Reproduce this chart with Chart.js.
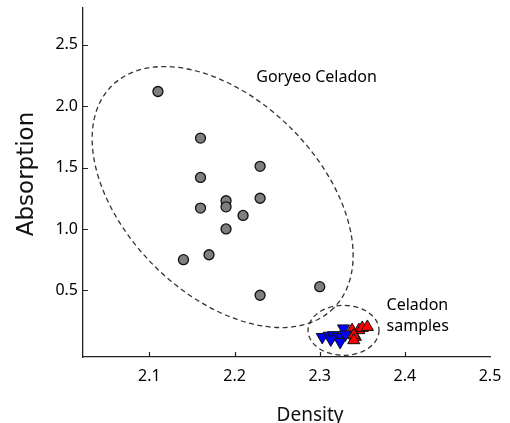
<!DOCTYPE html>
<html>
<head>
<meta charset="utf-8">
<script src="https://cdn.jsdelivr.net/npm/chart.js@4.4.0/dist/chart.umd.min.js"></script>
<style>
  body { margin: 0; background: #fff; }
  #grafico { display: block; }
</style>
</head>
<body>
<canvas id="grafico" width="510" height="423"></canvas>
<script>
// Goryeo celadon (gray circles)
const goryeoDensity    = [2.11, 2.16, 2.16, 2.16, 2.19, 2.19, 2.19, 2.21, 2.23, 2.23, 2.14, 2.17, 2.23, 2.30];
const goryeoAbsorption = [2.12, 1.74, 1.42, 1.17, 1.23, 1.18, 1.00, 1.11, 1.51, 1.25, 0.75, 0.79, 0.46, 0.53];

// celadon samples, blue (down triangles) and red (up triangles)
const blueDensity    = [2.303, 2.311, 2.316, 2.322, 2.328, 2.330, 2.324, 2.313];
const blueAbsorption = [0.12, 0.13, 0.135, 0.12, 0.19, 0.14, 0.08, 0.10];
const redDensity     = [2.338, 2.346, 2.350, 2.356, 2.342, 2.340, 2.340];
const redAbsorption  = [0.176, 0.176, 0.194, 0.202, 0.121, 0.135, 0.094];

const xTicks = [2.1, 2.2, 2.3, 2.4, 2.5];
const yTicks = [0.5, 1.0, 1.5, 2.0, 2.5];

function toPoints(xs, ys) {
    return xs.map((x, i) => ({ x: x, y: ys[i] }));
}

const ctx = document.getElementById('grafico').getContext('2d');

// dashed ellipses + text labels (anchored in data units)
const anotaciones = {
    id: 'anotaciones',
    beforeDatasetsDraw(chart) {
        const c = chart.ctx, xs = chart.scales.x, ys = chart.scales.y;
        const elipses = [
            { x: 2.186, y: 1.26, rx: 157, ry: 97, rot: Math.PI / 4 },
            { x: 2.328, y: 0.174, rx: 35.5, ry: 25, rot: 0 }
        ];
        c.save();
        c.strokeStyle = '#333';
        c.lineWidth = 1.3;
        c.setLineDash([5, 3.5]);
        elipses.forEach(e => {
            c.beginPath();
            c.ellipse(xs.getPixelForValue(e.x), ys.getPixelForValue(e.y), e.rx, e.ry, e.rot, 0, Math.PI * 2);
            c.stroke();
        });
        c.restore();
    },
    afterDraw(chart) {
        const c = chart.ctx, xs = chart.scales.x, ys = chart.scales.y, area = chart.chartArea;
        c.save();
        c.fillStyle = '#000';
        c.textAlign = 'left';
        c.textBaseline = 'alphabetic';
        c.font = '16px "Noto Sans"';
        c.fillText('Goryeo Celadon', xs.getPixelForValue(2.2255), ys.getPixelForValue(2.2));
        c.fillText('Celadon', xs.getPixelForValue(2.3785), ys.getPixelForValue(0.34));
        c.fillText('samples', xs.getPixelForValue(2.3785), ys.getPixelForValue(0.167));

        // inward tick marks
        c.strokeStyle = '#222';
        c.lineWidth = 1.2;
        c.beginPath();
        xTicks.forEach(v => {
            if (v >= xs.max) return;
            const px = Math.round(xs.getPixelForValue(v)) + 0.5;
            c.moveTo(px, area.bottom);
            c.lineTo(px, area.bottom - 5);
        });
        yTicks.forEach(v => {
            const py = Math.round(ys.getPixelForValue(v)) + 0.5;
            c.moveTo(area.left, py);
            c.lineTo(area.left + 5, py);
        });
        c.stroke();

        // axis titles
        c.fillStyle = '#111';
        c.textAlign = 'center';
        c.font = '19px "Noto Sans"';
        c.fillText('Density', 310, 421);
        c.translate(33, 174);
        c.rotate(-Math.PI / 2);
        c.font = '23px "DejaVu Sans"';
        c.fillText('Absorption', 0, 0);
        c.restore();
    }
};

new Chart(ctx, {
    type: 'scatter',
    data: {
        datasets: [
            {
                label: 'Goryeo Celadon',
                data: toPoints(goryeoDensity, goryeoAbsorption),
                pointStyle: 'circle',
                pointRadius: 5,
                backgroundColor: '#7f7f7f',
                borderColor: '#111',
                borderWidth: 1.3,
                order: 3
            },
            {
                label: 'Red samples',
                data: toPoints(redDensity, redAbsorption),
                pointStyle: 'triangle',
                pointRadius: 7,
                backgroundColor: '#ff0000',
                borderColor: '#111',
                borderWidth: 1,
                order: 2
            },
            {
                label: 'Blue samples',
                data: toPoints(blueDensity, blueAbsorption),
                pointStyle: 'triangle',
                rotation: 180,
                pointRadius: 7,
                backgroundColor: '#0000ff',
                borderColor: '#111',
                borderWidth: 1,
                order: 1
            }
        ]
    },
    options: {
        responsive: false,
        animation: false,
        devicePixelRatio: 1,
        layout: { padding: { left: 0, right: 20, top: 7, bottom: 0 } },
        plugins: {
            legend: { display: false },
            tooltip: { enabled: false },
            title: { display: false }
        },
        scales: {
            x: {
                type: 'linear',
                min: 2.022,
                max: 2.5,
                grid: { display: false, drawTicks: false, tickLength: 0 },
                border: { display: true, color: '#222', width: 1.3 },
                ticks: {
                    color: '#000',
                    font: { family: 'Noto Sans', size: 16 },
                    padding: 10,
                    maxRotation: 0,
                    callback: v => v.toFixed(1)
                },
                afterBuildTicks: scale => { scale.ticks = xTicks.map(v => ({ value: v })); },
                afterFit: scale => {
                    scale.height = 66;
                    scale.paddingLeft = 0;
                    scale.paddingRight = 0;
                }
            },
            y: {
                type: 'linear',
                min: -0.043,
                max: 2.8,
                grid: { display: false, drawTicks: false, tickLength: 0 },
                border: { display: true, color: '#222', width: 1.3 },
                ticks: {
                    color: '#000',
                    font: { family: 'Noto Sans', size: 16 },
                    padding: 5,
                    callback: v => v.toFixed(1)
                },
                afterBuildTicks: scale => { scale.ticks = yTicks.map(v => ({ value: v })); },
                afterFit: scale => {
                    scale.width = 83;
                    scale.paddingTop = 0;
                    scale.paddingBottom = 0;
                }
            }
        }
    },
    plugins: [anotaciones]
});
</script>
</body>
</html>
